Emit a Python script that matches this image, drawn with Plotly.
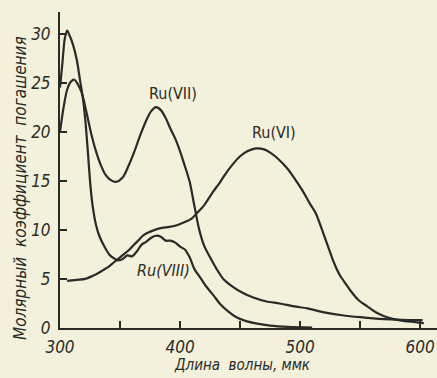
import plotly.graph_objects as go

# Ru(VIII)
wl_ru8 = [300, 302, 304, 306, 308, 311, 314, 317, 319, 321, 323, 325, 327, 330, 333, 337, 341, 345, 348,
          352, 356, 360, 364, 368, 372, 376, 380, 384, 388, 392, 396, 400, 404, 408, 412, 417, 422, 428,
          433, 440, 447, 455, 464, 475, 490, 510]
val_ru8 = [24.5, 27.0, 29.5, 30.3, 29.8, 28.8, 27.3, 25.0, 23.5, 21.3, 18.3, 15.0, 12.6, 10.5, 9.3, 8.3,
           7.5, 7.1, 6.9, 7.0, 7.4, 7.3, 7.8, 8.5, 8.8, 9.2, 9.4, 9.3, 8.9, 8.9, 8.7, 8.3, 8.0, 7.2, 6.0,
           5.1, 4.2, 3.3, 2.5, 1.7, 1.1, 0.7, 0.45, 0.25, 0.12, 0.05]

# Ru(VII)
wl_ru7 = [300, 303, 306, 309, 312, 315, 318, 322, 326, 330, 334, 338, 342, 347, 352, 357, 362, 367, 372,
          376, 380, 384, 388, 392, 396, 400, 404, 408, 412, 416, 420, 425, 430, 436, 444, 452, 461, 472,
          483, 495, 506, 520, 535, 550, 570, 590, 602]
val_ru7 = [20.0, 22.5, 24.3, 25.1, 25.3, 24.8, 24.0, 22.0, 19.8, 18.0, 16.6, 15.6, 15.1, 14.9, 15.3, 16.5,
           18.0, 19.7, 21.2, 22.1, 22.5, 22.2, 21.4, 20.3, 19.3, 18.0, 16.5, 14.9, 12.4, 10.0, 8.4, 7.2,
           6.1, 5.0, 4.2, 3.6, 3.1, 2.7, 2.5, 2.2, 2.0, 1.6, 1.3, 1.1, 0.9, 0.8, 0.8]

# Ru(VI)
wl_ru6 = [306, 314, 321, 327, 332, 336, 340, 344, 348, 352, 357, 361, 365, 369, 373, 379, 385, 391, 398,
          404, 409, 414, 420, 427, 433, 439, 444, 450, 456, 463, 470, 476, 482, 489, 495, 502, 508, 513,
          518, 523, 528, 533, 538, 542, 549, 556, 563, 570, 578, 587, 596, 603]
val_ru6 = [4.8, 4.9, 5.0, 5.3, 5.6, 5.9, 6.2, 6.6, 7.0, 7.4, 7.9, 8.4, 8.9, 9.4, 9.7, 10.0, 10.2, 10.3,
           10.5, 10.8, 11.1, 11.7, 12.5, 13.8, 14.8, 15.9, 16.7, 17.5, 18.0, 18.3, 18.2, 17.8, 17.2, 16.3,
           15.3, 14.0, 12.7, 11.7, 10.1, 8.4, 6.7, 5.4, 4.5, 3.8, 2.8, 2.2, 1.6, 1.2, 0.9, 0.7, 0.6, 0.5]

x_ticks = [300, 350, 400, 450, 500, 550, 600]
x_labels = ["300", "", "400", "", "500", "", "600"]
y_ticks = [0, 5, 10, 15, 20, 25, 30]

ink = "#2a2a26"
paper = "#f3f0dc"
cond = "DejaVu Sans Condensed, DejaVu Sans, sans-serif"
num_font = dict(family=cond, size=17, color=ink, style="italic")
lbl_font = dict(family=cond, size=16, color=ink)

fig = go.Figure()
for xs, ys in [(wl_ru8, val_ru8), (wl_ru7, val_ru7), (wl_ru6, val_ru6)]:
    fig.add_trace(go.Scatter(x=xs, y=ys, mode="lines",
                             line=dict(color=ink, width=2.2, shape="spline", smoothing=0.8),
                             showlegend=False, hoverinfo="skip"))

fig.update_layout(
    width=437, height=378,
    margin=dict(l=60, r=0, t=12, b=50, autoexpand=False),
    paper_bgcolor=paper, plot_bgcolor=paper,
    xaxis=dict(range=[300, 614], showgrid=False, zeroline=False, showline=True, automargin=False,
               linecolor=ink, linewidth=2, ticks="inside", ticklen=7, tickcolor=ink,
               tickwidth=1.5, tickvals=x_ticks, ticktext=x_labels, tickfont=num_font,
               ticklabelstandoff=3),
    yaxis=dict(range=[0, 32.2], showgrid=False, zeroline=False, showline=True, automargin=False,
               linecolor=ink, linewidth=2, ticks="inside", ticklen=7, tickcolor=ink,
               tickwidth=1.5, tickvals=y_ticks, ticktext=[str(v) for v in y_ticks],
               tickfont=num_font, ticklabelstandoff=4),
    annotations=[
        dict(x=394, y=23.9, text="Ru(VII)", showarrow=False, font=lbl_font),
        dict(x=478, y=19.9, text="Ru(VI)", showarrow=False, font=lbl_font),
        dict(x=386, y=5.9, text="Ru(VIII)", showarrow=False,
             font=dict(family=cond, size=16, color=ink, style="italic")),
        dict(xref="paper", yref="paper", x=0.483, y=-0.117, xanchor="center", yanchor="middle",
             text="Длина  волны, ммк", showarrow=False,
             font=dict(family=cond, size=15, color=ink, style="italic")),
        dict(xref="paper", yref="paper", x=-0.106, y=0.443, xanchor="center", yanchor="middle",
             text="Молярный  коэффициент  погашения", showarrow=False, textangle=-90,
             font=dict(family=cond, size=17, color=ink, style="italic")),
    ],
)

fig.write_html("out.html",
               config={"displayModeBar": False},
               post_script="document.body.style.margin='0px';"
                           "document.body.style.background='%s';" % paper)
